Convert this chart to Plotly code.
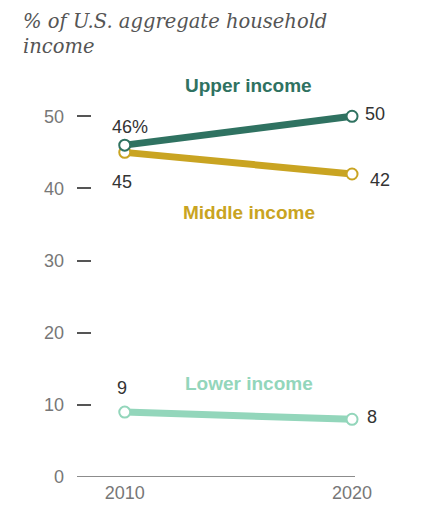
import plotly.graph_objects as go

years = [2010, 2020]
upper = [46, 50]
middle = [45, 42]
lower = [9, 8]

y_ticks = [0, 10, 20, 30, 40, 50]

series = [
    ("Lower income", lower, "#93d6bb"),
    ("Middle income", middle, "#c9a422"),
    ("Upper income", upper, "#2f7261"),
]

fig = go.Figure()
for name, vals, color in series:
    fig.add_trace(go.Scatter(
        x=years, y=vals, mode="lines+markers", name=name,
        line=dict(color=color, width=7),
        marker=dict(size=11, color="white", line=dict(color=color, width=2)),
        cliponaxis=False, hoverinfo="skip",
    ))

num_font = dict(family="Liberation Sans, Arial, sans-serif", size=18, color="#333333")

# value labels: (x, y, text, xshift, yshift in px downwards)
labels = [
    (years[0], upper[0], "46%", 5, -18),
    (years[0], middle[0], str(middle[0]), -3, 30),
    (years[1], upper[1], str(upper[1]), 23, -2),
    (years[1], middle[1], str(middle[1]), 28, 6),
    (years[0], lower[0], str(lower[0]), -3, -24),
    (years[1], lower[1], str(lower[1]), 20, -2),
]
for x, y, t, dx, dy in labels:
    fig.add_annotation(x=x, y=y, text=t, showarrow=False, xshift=dx, yshift=-dy,
                       font=num_font)

# series names
name_pos = [
    ("Upper income", "#2f7261", 54.2),
    ("Middle income", "#c9a422", 36.7),
    ("Lower income", "#93d6bb", 13.0),
]
for name, color, ypos in name_pos:
    fig.add_annotation(x=2015.45, y=ypos, text="<b>%s</b>" % name, showarrow=False,
                       font=dict(family="Liberation Sans, Arial, sans-serif", size=19, color=color))

# chart subtitle
fig.add_annotation(
    text="<i>% of U.S. aggregate household<br>income</i>",
    xref="paper", yref="paper", x=-0.2, y=1.0, xanchor="left", yanchor="bottom",
    yshift=13, showarrow=False, align="left",
    font=dict(family="DejaVu Serif, serif", size=19.5, color="#555555"),
)

fig.update_layout(
    width=423, height=506,
    margin=dict(l=69, r=76, t=65, b=37),
    plot_bgcolor="white", paper_bgcolor="white",
    showlegend=False,
    xaxis=dict(
        range=[2007.9, 2020.13], tickvals=years, ticktext=["2010", "2020"],
        showgrid=False, zeroline=False, showline=False, ticks="",
        ticklabelstandoff=3,
        tickfont=dict(family="Liberation Sans, Arial, sans-serif", size=18, color="#777777"),
    ),
    yaxis=dict(
        range=[0, 56], tickvals=y_ticks, showgrid=False, zeroline=False,
        ticks="inside", ticklen=14, tickwidth=1.5, tickcolor="#555555",
        ticklabelstandoff=12,
        tickfont=dict(family="Liberation Sans, Arial, sans-serif", size=18, color="#777777"),
    ),
)

# baseline at zero
fig.add_shape(type="line", xref="paper", yref="y", x0=0, x1=1, y0=0, y1=0,
              line=dict(color="#666666", width=1.5))

fig.write_html("out.html")
